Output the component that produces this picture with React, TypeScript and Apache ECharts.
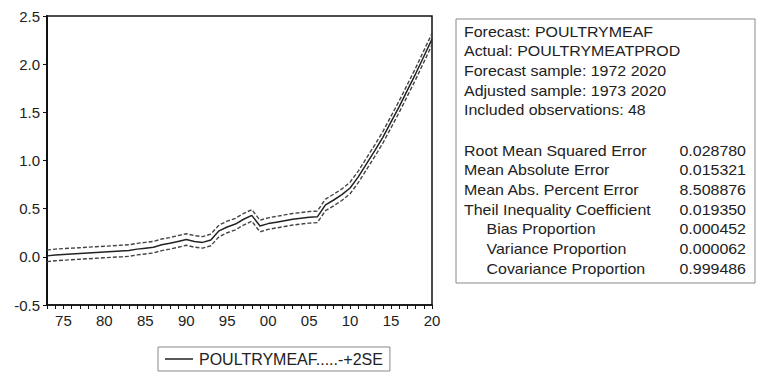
import React, { useEffect, useRef } from "react";
import * as echarts from "echarts";

const years: string[] = [];
for (let y = 1973; y <= 2020; y++) years.push(String(y));

const forecast = [0.01, 0.02, 0.025, 0.03, 0.035, 0.04, 0.045, 0.05, 0.055, 0.06, 0.065, 0.08, 0.09, 0.10, 0.125, 0.14, 0.16, 0.18, 0.16, 0.15, 0.175, 0.27, 0.31, 0.34, 0.39, 0.43, 0.32, 0.345, 0.36, 0.375, 0.39, 0.40, 0.41, 0.415, 0.54, 0.59, 0.645, 0.715, 0.83, 0.965, 1.10, 1.24, 1.40, 1.56, 1.73, 1.90, 2.08, 2.26];
const upper = [0.07, 0.08, 0.085, 0.09, 0.095, 0.10, 0.105, 0.11, 0.115, 0.12, 0.125, 0.14, 0.15, 0.16, 0.185, 0.20, 0.22, 0.24, 0.22, 0.21, 0.235, 0.33, 0.37, 0.40, 0.45, 0.49, 0.38, 0.405, 0.42, 0.435, 0.45, 0.46, 0.47, 0.475, 0.60, 0.65, 0.705, 0.775, 0.89, 1.025, 1.16, 1.30, 1.46, 1.62, 1.79, 1.96, 2.14, 2.32];
const lower = [-0.05, -0.04, -0.035, -0.03, -0.025, -0.02, -0.015, -0.01, -0.005, 0.0, 0.005, 0.02, 0.03, 0.04, 0.065, 0.08, 0.10, 0.12, 0.10, 0.09, 0.115, 0.21, 0.25, 0.28, 0.33, 0.37, 0.26, 0.285, 0.30, 0.315, 0.33, 0.34, 0.35, 0.355, 0.48, 0.53, 0.585, 0.655, 0.77, 0.905, 1.04, 1.18, 1.34, 1.50, 1.67, 1.84, 2.02, 2.20];

const legendName = "POULTRYMEAF.....-+2SE";

const infoLines = [
  "Forecast: POULTRYMEAF",
  "Actual: POULTRYMEATPROD",
  "Forecast sample: 1972 2020",
  "Adjusted sample: 1973 2020",
  "Included observations: 48",
];
const statNames = [
  "Root Mean Squared Error",
  "Mean Absolute Error",
  "Mean Abs. Percent Error",
  "Theil Inequality Coefficient",
  "Bias Proportion",
  "Variance Proportion",
  "Covariance Proportion",
];
const statIndent = [false, false, false, false, true, true, true];
const statValues = ["0.028780", "0.015321", "8.508876", "0.019350", "0.000452", "0.000062", "0.999486"];

const FONT = "'Liberation Sans', Arial, sans-serif";

export default function App() {
  const ref = useRef<HTMLDivElement>(null);
  useEffect(() => {
    if (!ref.current) return;
    const chart = echarts.init(ref.current, undefined, { renderer: "svg" });
    const textStyle = { fontFamily: FONT, fontSize: 14, fill: "#222", verticalAlign: "middle" as const };
    const graphics: any[] = [
      {
        type: "rect",
        shape: { x: 456, y: 19, width: 299, height: 264 },
        style: { fill: "#fff", stroke: "#888", lineWidth: 1 },
        z: 10,
      },
    ];
    infoLines.forEach((t, i) => {
      graphics.push({
        type: "text",
        x: 464,
        y: 31.7 + i * 19.6,
        scaleX: 1.14,
        z: 11,
        style: { ...textStyle, text: t, align: "left" },
      });
    });
    statNames.forEach((t, i) => {
      graphics.push({
        type: "text",
        x: statIndent[i] ? 486.5 : 464,
        y: 150.7 + i * 19.65,
        scaleX: 1.14,
        z: 11,
        style: { ...textStyle, text: t, align: "left" },
      });
      graphics.push({
        type: "text",
        x: 746,
        y: 150.7 + i * 19.65,
        scaleX: 1.14,
        z: 11,
        style: { ...textStyle, text: statValues[i], align: "right" },
      });
    });

    const option: any = {
      animation: false,
      backgroundColor: "#fff",
      textStyle: { fontFamily: FONT },
      grid: {
        left: 47,
        top: 16,
        width: 385,
        height: 289,
        show: true,
        borderColor: "#111",
        borderWidth: 1.5,
        containLabel: false,
      },
      legend: {
        left: 158,
        top: 347,
        data: [{ name: legendName, icon: "rect" }],
        borderColor: "#888",
        borderWidth: 1,
        padding: [4, 7, 4, 7],
        itemWidth: 28,
        itemHeight: 1.5,
        itemGap: 5,
        itemStyle: { color: "#222" },
        textStyle: { fontFamily: FONT, fontSize: 16, color: "#222", padding: [0, 0, 0, 1] },
      },
      xAxis: {
        type: "category",
        data: years,
        boundaryGap: false,
        axisLine: { onZero: false, lineStyle: { color: "#111", width: 1.5 } },
        axisTick: { show: true, interval: 0, length: 4, lineStyle: { color: "#111" } },
        axisLabel: {
          interval: (_i: number, v: string) => Number(v) % 5 === 0,
          formatter: (v: string) => v.slice(2),
          fontFamily: FONT,
          fontSize: 15,
          color: "#222",
          margin: 8,
        },
        splitLine: { show: false },
      },
      yAxis: {
        type: "value",
        min: -0.5,
        max: 2.5,
        interval: 0.5,
        axisLine: { show: true, onZero: false, lineStyle: { color: "#111", width: 2 } },
        axisTick: { show: true, length: 4, lineStyle: { color: "#111" } },
        axisLabel: {
          formatter: (v: number) => v.toFixed(1),
          fontFamily: FONT,
          fontSize: 15,
          color: "#222",
          margin: 7,
        },
        splitLine: { show: false },
      },
      series: [
        {
          name: legendName,
          type: "line",
          data: forecast,
          symbol: "none",
          lineStyle: { color: "#222", width: 1.5 },
          itemStyle: { color: "#222" },
          z: 3,
        },
        {
          name: "upper",
          type: "line",
          data: upper,
          symbol: "none",
          lineStyle: { color: "#444", width: 1.4, type: [4, 2] },
          z: 2,
        },
        {
          name: "lower",
          type: "line",
          data: lower,
          symbol: "none",
          lineStyle: { color: "#444", width: 1.4, type: [4, 2] },
          z: 2,
        },
      ],
      graphic: graphics,
    };
    chart.setOption(option);
    return () => chart.dispose();
  }, []);
  return (
    <div
      ref={ref}
      style={{ position: "fixed", left: 0, top: 0, width: 757, height: 378, background: "#fff" }}
    />
  );
}
